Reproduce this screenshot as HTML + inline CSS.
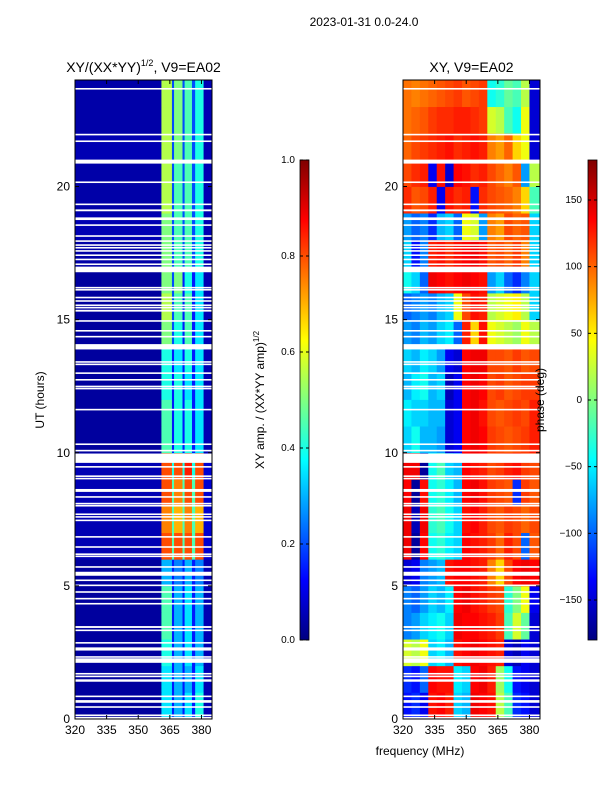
<!DOCTYPE html>
<html><head><meta charset="utf-8"><style>
body{margin:0;background:#fff}
svg{display:block;font-family:"Liberation Sans","DejaVu Sans",sans-serif}
</style></head><body>
<svg id="fig" width="600" height="800" xmlns="http://www.w3.org/2000/svg">
<defs>
<linearGradient id="jetv" x1="0" y1="1" x2="0" y2="0"></linearGradient>
</defs>
<text x="364" y="26" font-size="12" text-anchor="middle">2023-01-31 0.0-24.0</text>
<g id="left"></g>
<g id="right"></g>
<g id="cbars"></g>
</svg>
<script>
const NS="http://www.w3.org/2000/svg";
// ---- data ----
const ampFreqEdges=[320,361,366,367,371,372,375.5,377,381,385];
const ampRows=[
[0.03,0.35,0.15,0.3,0.15,0.35,0.15,0.4,0.05],
[0.03,0.35,0.15,0.3,0.15,0.3,0.15,0.35,0.05],
[0.03,0.4,0.15,0.3,0.15,0.35,0.15,0.3,0.05],
[0.03,0.45,0.15,0.3,0.15,0.35,0.15,0.3,0.05],
[0.03,0.45,0.15,0.3,0.15,0.35,0.15,0.3,0.05],
[0.03,0.3,0.15,0.25,0.15,0.3,0.15,0.25,0.05],
[0.05,0.8,0.45,0.8,0.45,0.8,0.45,0.8,0.08],
[0.05,0.75,0.45,0.7,0.45,0.75,0.45,0.7,0.08],
[0.05,0.8,0.45,0.75,0.45,0.8,0.45,0.8,0.08],
[0.05,0.8,0.4,0.8,0.4,0.85,0.4,0.8,0.08],
[0.03,0.45,0.15,0.4,0.15,0.4,0.15,0.35,0.05],
[0.03,0.45,0.15,0.4,0.15,0.4,0.15,0.35,0.05],
[0.03,0.4,0.15,0.4,0.15,0.35,0.15,0.35,0.05],
[0.03,0.4,0.15,0.35,0.15,0.4,0.15,0.35,0.05],
[0.03,0.5,0.2,0.4,0.15,0.45,0.15,0.35,0.05],
[0.03,0.55,0.2,0.45,0.15,0.45,0.15,0.35,0.05],
[0.03,0.5,0.2,0.5,0.15,0.4,0.15,0.35,0.05],
[0.04,0.5,0.2,0.45,0.2,0.45,0.2,0.4,0.05],
[0.05,0.5,0.2,0.45,0.2,0.45,0.2,0.4,0.05],
[0.04,0.55,0.2,0.45,0.2,0.45,0.2,0.4,0.05],
[0.04,0.55,0.2,0.45,0.2,0.45,0.2,0.4,0.05],
[0.05,0.55,0.2,0.5,0.2,0.45,0.2,0.4,0.05],
[0.04,0.55,0.2,0.5,0.2,0.45,0.2,0.4,0.05],
[0.04,0.55,0.2,0.5,0.2,0.45,0.2,0.4,0.05]];
const phaseFreqEdges=[320,324,328,332,336,340,344,348,352,356,360,364,368,372,376,380,385];
const phaseRows=[
[-130,-120,-140,130,135,125,-60,-70,140,135,130,20,-20,-120,-130,-150],
[-120,-130,-100,135,130,130,-50,-60,135,140,125,10,-40,-130,-140,-150],
[30,20,40,-60,-50,-70,130,135,140,135,130,125,-150,-160,-140,-150],
[-90,-80,-60,-50,-40,-60,140,135,135,130,125,115,-20,30,-10,-150],
[-90,-100,-80,-60,-70,-50,135,140,130,125,115,110,-30,0,40,-140],
[-150,-140,-90,-80,-70,130,135,135,130,125,90,60,110,135,140,135],
[140,-170,135,-40,-30,-50,-60,135,130,125,115,100,125,110,-100,105],
[140,-160,140,-30,-20,-40,-60,130,135,125,110,105,115,110,100,110],
[135,-170,130,-40,-30,-50,-70,135,140,130,115,110,105,-120,115,105],
[140,140,-170,-40,-20,-60,-70,135,130,125,110,115,125,130,115,110],
[-60,-40,-70,-70,-80,-150,-140,135,140,135,115,110,105,110,115,125],
[-50,-60,-60,-70,-70,-150,-140,135,140,130,110,105,110,115,110,125],
[-70,-50,-40,-70,-60,-160,-140,135,140,135,110,115,105,110,115,115],
[-60,-70,-50,-60,-80,-140,-150,135,140,140,110,110,105,115,105,110],
[-80,-90,-70,-80,-60,-50,-100,125,60,130,40,30,20,10,40,20],
[-100,-90,-80,-90,-70,-60,40,110,130,125,20,30,40,50,20,-60],
[-40,-60,-100,140,135,130,135,140,135,130,-80,-60,-100,-120,-90,-60],
[-60,-130,-90,125,130,120,130,135,140,130,105,110,100,115,90,-60],
[-80,-100,-90,-120,-70,-60,-100,40,30,-80,90,80,110,100,105,-60],
[120,105,110,125,-140,130,120,125,-130,120,110,105,100,90,60,-20],
[110,120,125,-140,130,-150,135,130,120,125,110,100,90,105,-80,20],
[100,110,115,120,125,130,120,125,130,125,90,80,100,60,40,-150],
[95,100,105,115,120,120,125,125,120,115,30,20,-20,-40,40,-150],
[95,90,95,100,105,110,115,105,110,115,-40,-30,-10,-20,20,-150]];
const flagStart=[23.64,21.92,21.67,20.86,20.13,19.30,19.07,18.74,18.52,18.11,17.92,17.77,17.67,17.55,17.39,17.23,17.05,16.78,16.17,16.09,15.80,15.67,15.51,15.42,15.30,14.92,14.55,14.33,13.88,13.38,13.29,12.96,12.71,12.46,12.38,11.59,10.29,10.05,9.62,9.44,9.09,9.00,8.58,8.53,8.31,8.06,7.98,7.66,7.56,7.43,6.81,6.43,6.16,6.08,5.68,5.38,5.18,4.99,4.74,4.49,4.30,3.42,3.30,2.83,2.57,2.30,2.11,1.67,1.57,1.40,0.82,0.61,0.42,0.11,0.02];
const flagEnd=  [23.70,21.98,21.73,21.01,20.19,19.36,19.14,18.84,18.58,18.17,17.98,17.83,17.73,17.61,17.45,17.29,17.11,16.99,16.23,16.15,15.86,15.73,15.57,15.48,15.37,14.98,14.61,14.39,14.08,13.44,13.35,13.02,12.77,12.52,12.44,11.65,10.35,10.11,9.97,9.50,9.15,9.06,8.64,8.59,8.37,8.12,8.04,7.72,7.62,7.49,6.87,6.49,6.22,6.14,5.74,5.53,5.24,5.05,4.80,4.55,4.36,3.49,3.36,2.89,2.69,2.36,2.28,1.73,1.63,1.49,0.88,0.71,0.48,0.17,0.08];
const xTicks=[320,335,350,365,380];
const yTicks=[0,5,10,15,20];
const ampCbTicks=[0.0,0.2,0.4,0.6,0.8,1.0];
const phaseCbTicks=[-150,-100,-50,0,50,100,150];

// ---- helpers ----
function jet(v){v=Math.max(0,Math.min(1,v));
 const f=(x)=>Math.max(0,Math.min(1,x));
 const r=f(Math.min(4*v-1.5,-4*v+4.5)),g=f(Math.min(4*v-0.5,-4*v+3.5)),b=f(Math.min(4*v+0.5,-4*v+2.5));
 return `rgb(${Math.round(r*255)},${Math.round(g*255)},${Math.round(b*255)})`;}
function mk(tag,attrs,parent,txt){const e=document.createElementNS(NS,tag);for(const k in attrs)e.setAttribute(k,attrs[k]);if(txt!==undefined)e.textContent=txt;parent.appendChild(e);return e;}
const grad=document.getElementById('jetv');
for(let i=0;i<=32;i++){mk('stop',{offset:i/32,'stop-color':jet(i/32)},grad);}
const PT=80,PB=719,XMIN=320,XMAX=385,TMAX=24;
const yS=(h)=>PB-(h/TMAX)*(PB-PT);

function panel(g,x0,x1,edges,rows,norm,title){
 const xS=(f)=>x0+(f-XMIN)/(XMAX-XMIN)*(x1-x0);
 rows.forEach((row,hi)=>{row.forEach((v,ci)=>{
  const r=mk('rect',{x:xS(edges[ci]),y:yS(hi+1),width:xS(edges[ci+1])-xS(edges[ci])+0.4,height:yS(hi)-yS(hi+1)+0.4,fill:jet(norm(v))},g);
  
  
 });});
 flagStart.forEach((s,i)=>{
  const r=mk('rect',{x:x0,y:yS(flagEnd[i]),width:x1-x0,height:Math.max(1.2,yS(s)-yS(flagEnd[i])),fill:'#fff'},g);
  
  
 });
 const fr=mk('rect',{x:x0,y:PT,width:x1-x0,height:PB-PT,fill:'none',stroke:'#000','stroke-width':1},g);
 
 
 xTicks.forEach(t=>{const x=xS(t);
  mk('line',{x1:x,y1:PB,x2:x,y2:PB-4,stroke:'#000'},g);mk('line',{x1:x,y1:PT,x2:x,y2:PT+4,stroke:'#000'},g);
  const l=mk('text',{x:x,y:PB+15,'font-size':12,'text-anchor':'middle'},g,String(t));
  
  });
 yTicks.forEach(t=>{const y=yS(t);
  mk('line',{x1:x0,y1:y,x2:x0+4,y2:y,stroke:'#000'},g);mk('line',{x1:x1,y1:y,x2:x1-4,y2:y,stroke:'#000'},g);
  const l=mk('text',{x:x0-5,y:y+4,'font-size':12,'text-anchor':'end'},g,String(t));
  
  });
 const tt=mk('text',{x:(x0+x1)/2,y:72,'font-size':14,'text-anchor':'middle'},g);
 tt.innerHTML=title;
 
 
}
panel(document.getElementById('left'),75,212,ampFreqEdges,ampRows,v=>v,'XY/(XX*YY)<tspan font-size="9" dy="-6">1/2</tspan><tspan dy="6">, V9=EA02</tspan>');
panel(document.getElementById('right'),403,540,phaseFreqEdges,phaseRows,v=>(v+180)/360,'XY, V9=EA02');

const cb=document.getElementById('cbars');
function cbar(x,lo,hi,ticks,fmt,labelX){
 const r=mk('rect',{x:x,y:160,width:9,height:480,fill:'url(#jetv)',stroke:'#000','stroke-width':0.8},cb);
 
 
 ticks.forEach(t=>{const y=640-(t-lo)/(hi-lo)*480;
  mk('line',{x1:x,y1:y,x2:x+3,y2:y,stroke:'#000'},cb);mk('line',{x1:x+9,y1:y,x2:x+6,y2:y,stroke:'#000'},cb);
  const l=mk('text',{x:labelX,y:y+3,'font-size':10,'text-anchor':'end'},cb,fmt(t));
  
  });
}
cbar(300,0,1,ampCbTicks,t=>t.toFixed(1),295);
cbar(588,-180,180,phaseCbTicks,t=>t<0?'\u2212'+(-t):String(t),582);

const lbls=[['UT (hours)',44,400,'y-axis-title'],['phase (deg)',544,400,'phase-colorbar-title']];
lbls.forEach(([s,x,y,n])=>{const t=mk('text',{x:x,y:y,'font-size':12,'text-anchor':'middle',transform:`rotate(-90 ${x} ${y})`},document.getElementById('fig'),s);
 
 });
const al=mk('text',{x:264,y:400,'font-size':12,'text-anchor':'middle',transform:'rotate(-90 264 400)'},document.getElementById('fig'));
al.innerHTML='XY amp. / (XX*YY amp)<tspan font-size="8" dy="-5">1/2</tspan>';


const xl=mk('text',{x:420,y:755,'font-size':12,'text-anchor':'middle'},document.getElementById('fig'),'frequency (MHz)');


</script>
</body></html>
